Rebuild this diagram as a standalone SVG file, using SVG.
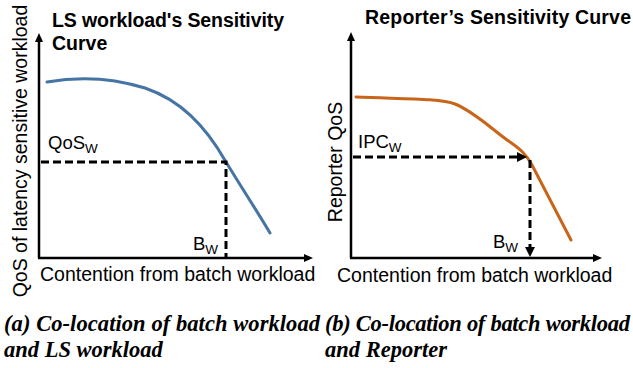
<svg xmlns="http://www.w3.org/2000/svg" width="633" height="368" viewBox="0 0 633 368">
<style>
.sans{font-family:"Liberation Sans",Arial,sans-serif;fill:#000}
.title{font-weight:bold;font-size:19.5px}
.axlbl{font-size:19.5px}
.lbl{font-size:18.5px}
.sub{font-size:13.5px}
.cap{font-family:"Liberation Serif","Times New Roman",serif;font-weight:bold;font-style:italic;font-size:22.5px;fill:#000}
.axis{stroke:#000;stroke-width:2.5;fill:none}
.dash{stroke:#000;stroke-width:3;fill:none;stroke-dasharray:8 4}
.blue{stroke:#4674A4;stroke-width:3;fill:none;stroke-linecap:round}
.orange{stroke:#C8651B;stroke-width:3;fill:none;stroke-linecap:round}
</style>
<defs>
<marker id="ah" markerUnits="userSpaceOnUse" markerWidth="10" markerHeight="8" refX="3" refY="4" orient="auto">
<path d="M0,0 L9,4 L0,8 z" fill="#000" stroke="none"/>
</marker>
<marker id="dh" markerUnits="userSpaceOnUse" markerWidth="11" markerHeight="10" refX="3" refY="5" orient="auto">
<path d="M0,0 L10,5 L0,10 z" fill="#000" stroke="none"/>
</marker>
</defs>

<g id="left-chart">
  <g id="left-axes">
    <path class="axis" d="M39,258 V39" marker-end="url(#ah)"/>
    <path class="axis" d="M38,258 H307" marker-end="url(#ah)"/>
  </g>
  <g id="left-curve">
    <path class="blue" d="M47,82 C75,77 110,77 145,88 C180,100 205,125 226,162 C240,185 255,208 270,233"/>
  </g>
  <g id="left-connectors">
    <path class="dash" d="M41,162 H226 V257"/>
  </g>
  <g id="left-labels">
    <text class="sans title" x="52" y="27" textLength="232">LS workload's Sensitivity</text>
    <text class="sans title" x="52" y="50">Curve</text>
    <text class="sans axlbl" transform="translate(27,151) rotate(-90)" text-anchor="middle">QoS of latency sensitive workload</text>
    <text class="sans axlbl" x="40" y="281">Contention from batch workload</text>
    <text class="sans lbl" x="48" y="149">QoS<tspan class="sub" dy="4">W</tspan></text>
    <text class="sans lbl" x="193" y="250">B<tspan class="sub" dy="4">W</tspan></text>
  </g>
</g>

<g id="right-chart">
  <g id="right-axes">
    <path class="axis" d="M351,258 V38" marker-end="url(#ah)"/>
    <path class="axis" d="M350,258 H596" marker-end="url(#ah)"/>
  </g>
  <g id="right-curve">
    <path class="orange" d="M356,97 C400,99 440,98 455,104 C475,112 495,132 510,142 C520,149 526,154 532,165 C545,190 558,215 571,240"/>
  </g>
  <g id="right-connectors">
    <path class="dash" d="M353,157 H520" marker-end="url(#dh)"/>
    <path class="dash" d="M530,160 V250" marker-end="url(#dh)"/>
  </g>
  <g id="right-labels">
    <text class="sans title" x="365" y="24" textLength="266">Reporter’s Sensitivity Curve</text>
    <text class="sans axlbl" transform="translate(342,162) rotate(-90)" text-anchor="middle">Reporter QoS</text>
    <text class="sans axlbl" x="337" y="282">Contention from batch workload</text>
    <text class="sans lbl" x="358" y="148">IPC<tspan class="sub" dy="4">W</tspan></text>
    <text class="sans lbl" x="493" y="248">B<tspan class="sub" dy="4">W</tspan></text>
  </g>
</g>

<g id="captions">
  <text class="cap" x="4" y="331" textLength="316">(a) Co-location of batch workload</text>
  <text class="cap" x="4" y="357">and LS workload</text>
  <text class="cap" x="325" y="331" textLength="305">(b) Co-location of batch workload</text>
  <text class="cap" x="325" y="357">and Reporter</text>
</g>
</svg>
